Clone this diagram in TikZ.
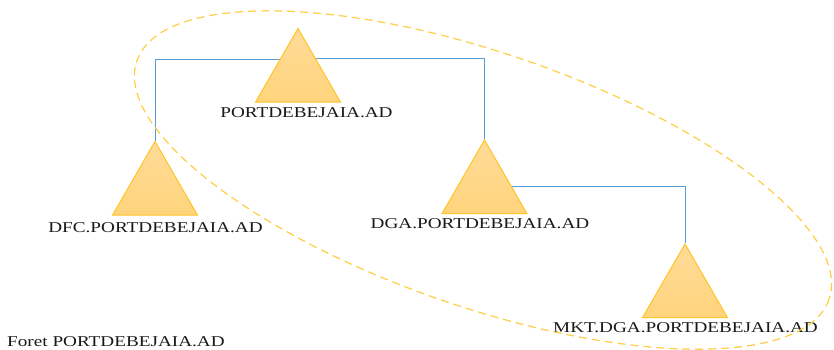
\documentclass[tikz,border=0pt]{standalone}
\usepackage{fontspec}
\newfontfamily\labelfont[FakeStretch=1.28]{Liberation Serif}
\usetikzlibrary{positioning,
                shapes.geometric,
                backgrounds}

\definecolor{triTop}{HTML}{FFDB98}
\definecolor{triBot}{HTML}{FFD47C}
\definecolor{triLine}{HTML}{FFC425}
\definecolor{linkBlue}{HTML}{5B9BD5}
\definecolor{forestLine}{HTML}{FFCE45}

\begin{document}
\begin{tikzpicture}[x=1pt, y=-1pt,
    domainbox/.style={regular polygon, regular polygon sides=3, minimum size=98pt,
                   inner sep=0pt, draw=triLine, line width=1pt,
                   top color=triTop, bottom color=triBot},
    domainlabel/.style={font=\labelfont\fontsize{15}{18}\selectfont, inner sep=0pt,
                 anchor=base, text=black!90},
    link/.style={draw=linkBlue, line width=0.8pt},
    forest/.style={draw=forestLine, line width=1.2pt, dash pattern=on 8pt off 5pt}]
    \useasboundingbox (0,0) rectangle (834,349);

    % Domaines
    \node[domainbox] (root) at (298,77.5) {};
    \node[domainbox] (dfc)  at (155,190.5) {};
    \node[domainbox] (dga)  at (484.5,189) {};
    \node[domainbox] (mkt)  at (685,293) {};

    % Noms
    \node[domainlabel] (root_text) at (306.5,117) {PORTDEBEJAIA.AD};
    \node[domainlabel] (dfc_text)  at (155.5,232) {DFC.PORTDEBEJAIA.AD};
    \node[domainlabel] (dga_text)  at (480,228) {DGA.PORTDEBEJAIA.AD};
    \node[domainlabel] (mkt_text)  at (685.5,332) {MKT.DGA.PORTDEBEJAIA.AD};
    \node[domainlabel, anchor=base west] (foret_text) at (7,346.5) {Foret PORTDEBEJAIA.AD};

    % Liens
    \begin{scope}[on background layer]
        \draw[link] (root.center) ++(0,-18) -| (dfc.corner 1);
        \draw[link] (root.center) ++(0,-19) -| (dga.corner 1);
        \draw[link] (dga.center) ++(0,-3) -| (mkt.corner 1);
    \end{scope}

    % Foret
    \draw[forest, rotate around={-19:(483,180)}] (483,180) ellipse [x radius=366, y radius=127];
\end{tikzpicture}
\end{document}
